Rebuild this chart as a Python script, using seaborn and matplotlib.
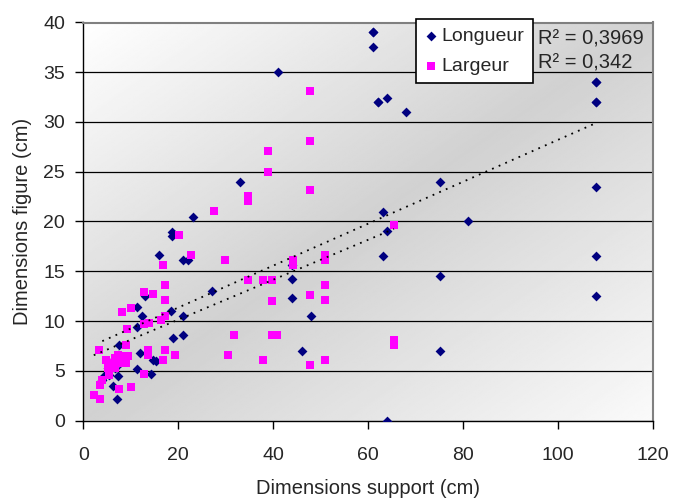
import numpy as np
import pandas as pd
import seaborn as sns
import matplotlib.pyplot as plt

# Longueur (losanges bleus) - les derniers points sont cachés sous d'autres marqueurs
long_x = [61, 61, 41, 62, 64, 68, 108, 108, 81, 108, 75, 108, 75, 75, 108,
          63, 64, 63, 44, 44, 44, 48, 46, 64, 33, 23, 18.7, 18.7, 16, 21, 22,
          13, 27, 18.5, 12.3, 21, 18.8, 21, 12, 14.7, 15.4, 14.2, 11.2, 11.3,
          7.6, 11.2, 4.3, 7.3, 6.3, 7,
          6.6, 7.3, 7.7, 6.3, 5.2, 5.5, 6.6, 4.0, 108, 108, 61, 62]
long_y = [39, 37.5, 35, 32, 32.4, 31, 34, 32, 20, 16.5, 14.5, 12.5, 7, 24, 23.5,
          21, 19, 16.5, 15.6, 14.2, 12.3, 10.5, 7, 0, 24, 20.5, 18.9, 18.5, 16.6,
          16.1, 16.1, 12.5, 13, 11, 10.5, 10.5, 8.3, 8.6, 6.8, 6.1, 6.0, 4.7,
          11.4, 9.4, 7.6, 5.2, 4.5, 4.5, 3.5, 2.2,
          6.3, 6.6, 5.8, 5.8, 5.3, 4.6, 5.3, 4.1, 34, 32, 39, 32]

# Largeur (carrés roses)
larg_x = [47.8, 47.8, 38.8, 38.8, 34.7, 34.7, 47.8, 65.4, 44.2, 44.2, 50.8, 50.8,
          34.7, 37.9, 39.8, 50.8, 47.8, 39.8, 50.8, 31.7, 39.7, 40.8, 65.4, 65.4,
          30.5, 37.9, 47.8, 50.8, 27.6, 20.2, 22.7, 16.8, 29.8, 12.8, 14.6, 17.1,
          17.1, 10.1, 8.2, 17.1, 16.4, 12.8, 13.9, 9.3, 8.9, 3.4, 4.7, 13.7, 13.7,
          17.1, 19.2, 16.7, 12.8, 10.0, 7.5, 2.2, 3.6, 4.0, 3.6, 6.6, 7.3, 8.7,
          7.7, 6.3, 5.2, 5.5, 6.6, 9.5, 9.0]
larg_y = [33.1, 28.1, 27.1, 25.0, 22.6, 22.1, 23.2, 19.6, 16.1, 15.6, 16.6, 16.1,
          14.1, 14.1, 14.1, 13.6, 12.6, 12.0, 12.1, 8.6, 8.6, 8.6, 8.1, 7.6,
          6.6, 6.1, 5.6, 6.1, 21.1, 18.6, 16.6, 15.6, 16.1, 12.9, 12.7, 13.6,
          12.1, 11.3, 10.9, 10.5, 10.1, 9.7, 9.8, 9.2, 7.6, 7.1, 6.1, 7.1, 6.6,
          7.1, 6.6, 6.1, 4.7, 3.4, 3.2, 2.6, 2.2, 4.1, 3.6, 6.3, 6.6, 6.5,
          5.8, 5.8, 5.3, 4.6, 5.3, 6.5, 5.8]

r2_long = "0,3969"
r2_larg = "0,342"

sns.set_style("white")
plt.rcParams['font.family'] = ['Liberation Sans', 'DejaVu Sans']

df_long = pd.DataFrame({'support': long_x, 'figure': long_y})
df_larg = pd.DataFrame({'support': larg_x, 'figure': larg_y})

fig = plt.figure(figsize=(6.73, 5.01), dpi=100)
ax = fig.add_axes([83.3 / 673, 1 - 420.5 / 501, 570 / 673, 398 / 501])

# fond en dégradé diagonal (blanc -> gris -> blanc)
g = np.linspace(0, 1, 300)
U, V = np.meshgrid(g, g)
d = (U + V) / 2
fond = np.where(d < 0.5, 1 - 0.18 * 2 * d, 0.82 + 0.16 * (2 * d - 1))
ax.imshow(fond, extent=[0, 120, 0, 40], origin='upper', aspect='auto',
          cmap='gray', vmin=0, vmax=1, zorder=0, interpolation='bilinear')

sns.scatterplot(data=df_long, x='support', y='figure', marker='D', s=25,
                color='#000080', linewidth=0, label='Longueur', ax=ax, zorder=3)
sns.scatterplot(data=df_larg, x='support', y='figure', marker='s', s=30,
                color='#FF00FF', linewidth=0, label='Largeur', ax=ax, zorder=3)

# courbes de tendance linéaires
for df in (df_long, df_larg):
    sns.regplot(data=df, x='support', y='figure', scatter=False, ci=None, ax=ax,
                line_kws=dict(color='black', lw=1.3, ls=(0, (1, 3)), zorder=4))

ax.set_xlim(0, 120)
ax.set_ylim(0, 40)
ax.set_xticks(range(0, 121, 20))
ax.set_yticks(range(0, 41, 5))
ax.grid(axis='y', color='black', lw=0.9)
ax.grid(axis='x', visible=False)
ax.set_axisbelow(True)
ax.tick_params(axis='both', direction='out', length=6, width=1, color='black',
               labelsize=14, bottom=True, left=True)
ax.tick_params(axis='x', pad=13)
ax.tick_params(axis='y', pad=7)

for s in ['left', 'bottom']:
    ax.spines[s].set_color('black')
    ax.spines[s].set_linewidth(1)
for s in ['top', 'right']:
    ax.spines[s].set_color('#808080')
    ax.spines[s].set_linewidth(1.5)

ax.set_xlabel('Dimensions support (cm)', fontsize=14.5)
ax.set_ylabel('Dimensions figure (cm)', fontsize=14.5)
ax.xaxis.set_label_coords(0.5, -0.148)
ax.yaxis.set_label_coords(-0.09, 0.5)

leg = ax.legend(loc='upper left', bbox_to_anchor=(0.584, 1.008), frameon=True,
                fancybox=False, edgecolor='black', framealpha=1, fontsize=14,
                handlelength=0.7, handletextpad=0.2, borderpad=0.42,
                labelspacing=0.62, borderaxespad=0)
leg.get_frame().set_linewidth(1.2)

ax.text(0.798, 0.958, 'R² = ' + r2_long, transform=ax.transAxes, fontsize=14.5,
        va='center', ha='left')
ax.text(0.798, 0.898, 'R² = ' + r2_larg, transform=ax.transAxes, fontsize=14.5,
        va='center', ha='left')

fig.savefig('out.png', dpi=100)
